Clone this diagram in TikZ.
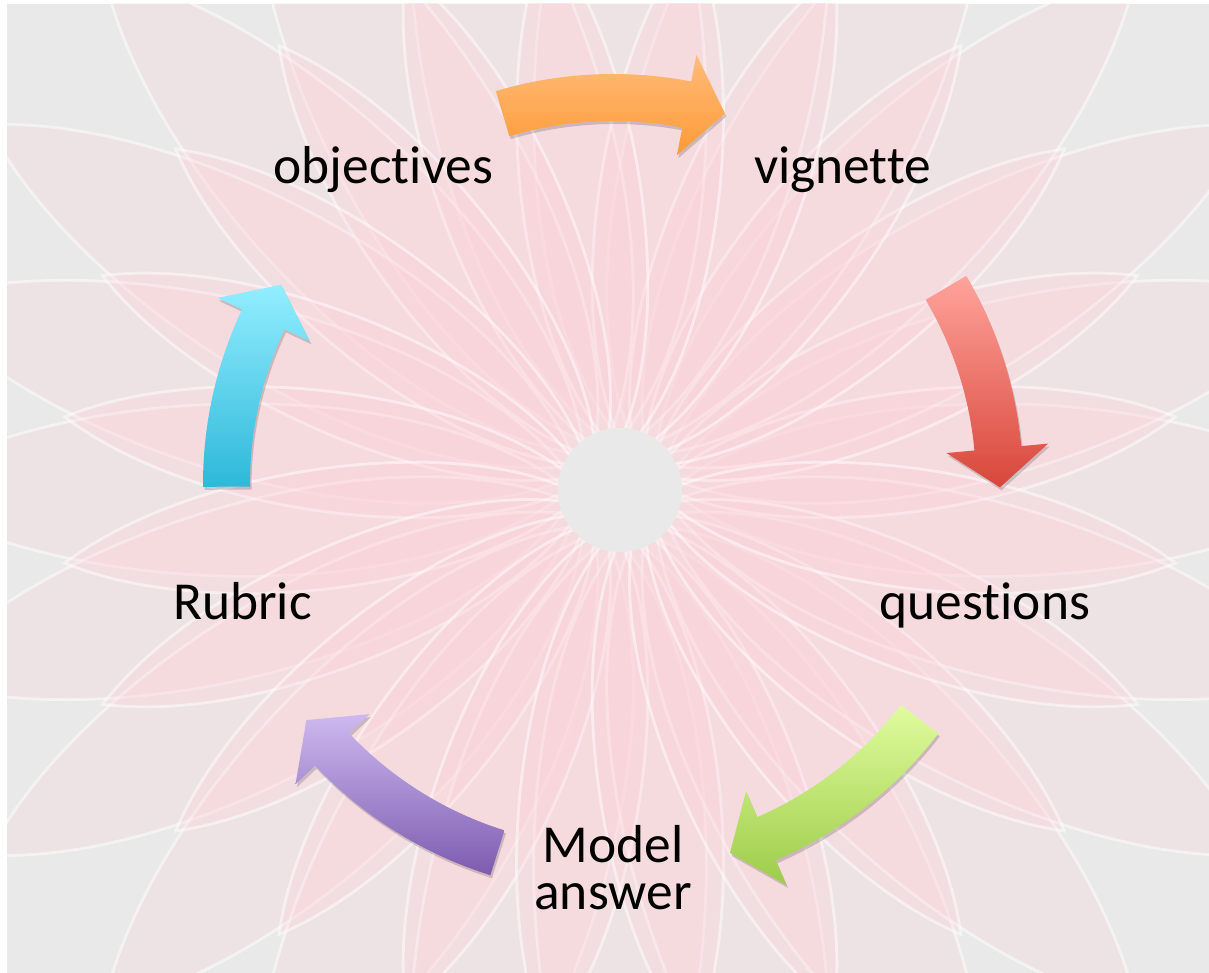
\documentclass[tikz,border=0pt]{standalone}
\usepackage{fontspec}
\setmainfont{Carlito}[Ligatures=NoCommon]
\usetikzlibrary{positioning}
\definecolor{bggray}{HTML}{E9E9E9}
\definecolor{petalpink}{HTML}{FFD0D8}
\definecolor{orangetop}{HTML}{FFBC78}
\definecolor{orangebot}{HTML}{FF9A38}
\definecolor{redtop}{HTML}{FFA39B}
\definecolor{redbot}{HTML}{D8463A}
\definecolor{greentop}{HTML}{E0FC9E}
\definecolor{greenbot}{HTML}{9CCC48}
\definecolor{purpletop}{HTML}{CDB9EF}
\definecolor{purplebot}{HTML}{7D5BB0}
\definecolor{cyantop}{HTML}{93EEFF}
\definecolor{cyanbot}{HTML}{2EB8DA}
\tikzset{
 arrowpath/.style 2 args={insert path={(#1:4.10)
   arc[start angle=#1,end angle=#2+5.8,radius=4.10]
   -- (#2+5.8:4.37) -- (#2:3.87) -- (#2+5.8:3.35) -- (#2+5.8:3.63)
   arc[start angle=#2+5.8,end angle=#1,radius=3.63] -- cycle}}
}

\begin{document}
\begin{tikzpicture}[
 petal/.style={fill=petalpink,fill opacity=.24,draw=white,draw opacity=.5,line width=.8pt},
 label/.style={anchor=base,inner sep=0pt,font=\fontsize{15.2}{13.6}\selectfont,align=center},
 arrowshadow/.style={fill=black,opacity=.16,shift={(0.015,-0.03)}}]
\useasboundingbox (0,0) rectangle (12.09,9.73);
\fill[white] (0,0) rectangle (12.09,9.73);
\coordinate (hub) at (6.13,4.89);
% background flower
\begin{scope}
\clip (0.07,0) rectangle (12.09,9.69);
\fill[bggray] (0.07,0) rectangle (12.09,9.69);
\foreach \a in {0,15,...,345}
 \draw[petal,shift={(6.20,4.83)},rotate=\a] (0.5,0) .. controls (2,1.2) and (5.6,1.1) .. (7.3,0)
   .. controls (5.6,-1.1) and (2,-1.2) .. (0.5,0);
\foreach \a in {7.5,22.5,...,352.5}
 \draw[petal,shift={(6.20,4.83)},rotate=\a] (0.4,0) .. controls (1.5,0.8) and (4.2,0.8) .. (5.6,0)
   .. controls (4.2,-0.8) and (1.5,-0.8) .. (0.4,0);
\fill[bggray] (6.20,4.83) circle (0.62);
\end{scope}
% labels
\node[label] (obj) at (3.835,7.89) {objectives};
\node[label] (vign) at (8.425,7.89) {vignette};
\node[label] (quest) at (9.85,3.53) {questions};
\node[label] (model) at (6.13,0.63) {Model\\answer};
\node[label] (rubric) at (2.425,3.53) {Rubric};
% cycle arrows
\begin{scope}[shift={(hub)}]
\foreach \tail/\tip/\ctop/\cbot in {106.6/73.2/orangetop/orangebot,
  30.5/-0.5/redtop/redbot, -37.5/-72.4/greentop/greenbot,
  -107.4/-142.4/purpletop/purplebot, 180.4/149/cyantop/cyanbot}{
 \fill[arrowshadow,arrowpath={\tail}{\tip}];
 \shade[top color=\ctop,bottom color=\cbot,arrowpath={\tail}{\tip}];
}
\end{scope}
\end{tikzpicture}
\end{document}
